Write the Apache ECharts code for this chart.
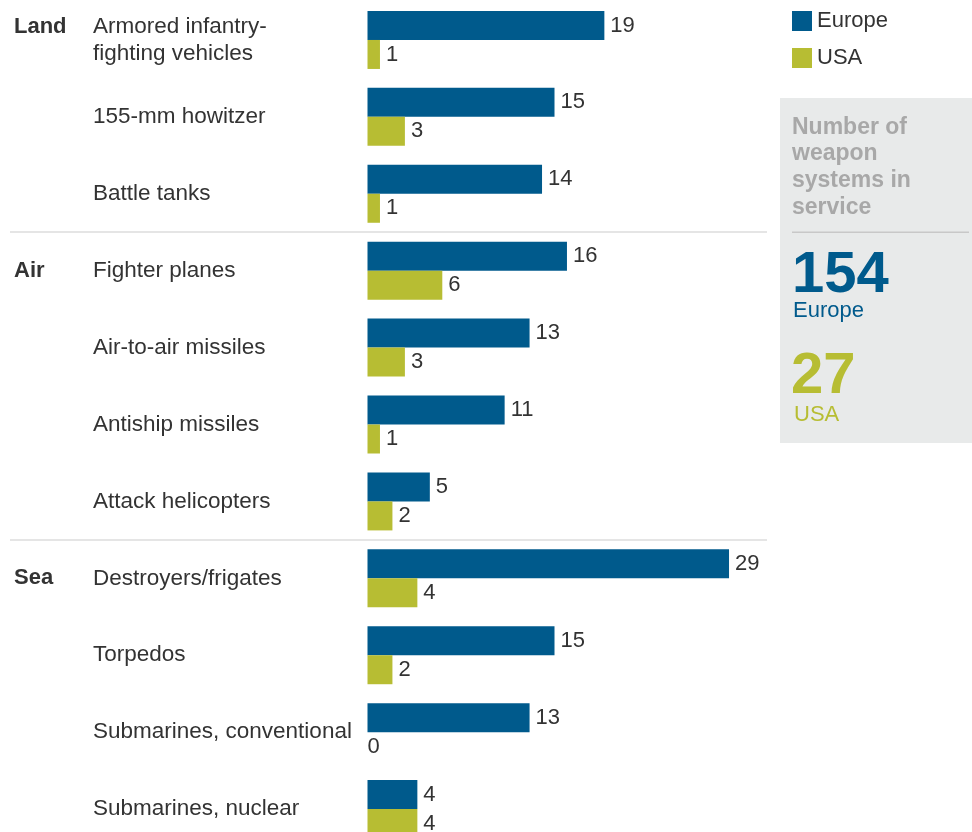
<!DOCTYPE html>
<html>
<head>
<meta charset="utf-8">
<script src="https://cdn.jsdelivr.net/npm/echarts@6/dist/echarts.min.js"></script>
<style>html,body{margin:0;padding:0;background:#fff}#c{width:972px;height:832px}</style>
</head>
<body>
<div id="c"></div>
<script>
const categories = ['Armored infantry-\nfighting vehicles','155-mm howitzer','Battle tanks','Fighter planes','Air-to-air missiles','Antiship missiles','Attack helicopters','Destroyers/frigates','Torpedos','Submarines, conventional','Submarines, nuclear'];
const groups = ['Land','Land','Land','Air','Air','Air','Air','Sea','Sea','Sea','Sea'];
const europe = [19,15,14,16,13,11,5,29,15,13,4];
const usa = [1,3,1,6,3,1,2,4,2,0,4];
const seriesNames = ['Europe','USA'];
const panelTitle = 'Number of\nweapon\nsystems in\nservice';

const BLUE = '#005a8c', GREEN = '#b7bd33', TXT = '#333333';
const FONT = 'Liberation Sans, Arial, sans-serif';
const sum = a => a.reduce((s, v) => s + v, 0);

const groupStart = groups.map((g, i) => i === 0 || groups[i - 1] !== g);
const lineCount = categories.map(c => c.split('\n').length);

function barData(arr) {
  return arr.map(v => v === 0 ? { value: v, label: { distance: 0 } } : v);
}

const chart = echarts.init(document.getElementById('c'), null, { renderer: 'canvas' });
chart.setOption({
  animation: false,
  textStyle: { fontFamily: FONT },
  legend: {
    orient: 'vertical', left: 792, top: 10, padding: 0,
    itemWidth: 20, itemHeight: 20, itemGap: 15,
    icon: 'rect',
    textStyle: { fontSize: 22, lineHeight: 20, color: TXT, fontFamily: FONT },
    data: seriesNames
  },
  grid: [
    { left: 367.5, width: 374, top: 1.5, height: 846, outerBoundsMode: 'none', containLabel: false },
    { left: 10, width: 757, top: 1.5, height: 846, outerBoundsMode: 'none', containLabel: false }
  ],
  xAxis: [
    { type: 'value', gridIndex: 0, min: 0, max: 30, show: false },
    { type: 'value', gridIndex: 1, min: 0, max: 1, show: false }
  ],
  yAxis: [
    {
      type: 'category', gridIndex: 0, inverse: true, data: categories,
      axisLine: { show: false }, axisTick: { show: false }, splitLine: { show: false },
      axisLabel: {
        interval: 0, align: 'left', margin: 274.5,
        fontSize: 22.5, lineHeight: 27, color: TXT, fontFamily: FONT
      }
    },
    {
      type: 'category', gridIndex: 1, inverse: true, data: categories,
      axisLine: { show: false }, axisTick: { show: false },
      splitLine: {
        show: true,
        interval: (i) => i > 0 && i < categories.length && groupStart[i],
        lineStyle: { color: '#dddddd', width: 1.5 }
      },
      axisLabel: {
        interval: 0, inside: true, align: 'left', margin: 4,
        fontSize: 22, lineHeight: 27, fontWeight: 'bold', color: TXT, fontFamily: FONT,
        formatter: (v, i) => groupStart[i] ? groups[i] + '\n '.repeat(lineCount[i] - 1) : ''
      }
    }
  ],
  series: [
    {
      name: seriesNames[0], type: 'bar', xAxisIndex: 0, yAxisIndex: 0,
      data: barData(europe), barWidth: 29, barGap: '0%',
      itemStyle: { color: BLUE },
      label: { show: true, position: 'right', distance: 6, fontSize: 22, color: TXT, fontFamily: FONT }
    },
    {
      name: seriesNames[1], type: 'bar', xAxisIndex: 0, yAxisIndex: 0,
      data: barData(usa), barWidth: 29, barGap: '0%',
      itemStyle: { color: GREEN },
      label: { show: true, position: 'right', distance: 6, fontSize: 22, color: TXT, fontFamily: FONT }
    }
  ],
  graphic: [
    { type: 'rect', shape: { x: 780, y: 98, width: 192, height: 345 }, style: { fill: '#e8eaea' }, z: -1 },
    { type: 'text', x: 792, y: 114, style: { text: panelTitle, fill: '#a8a8a8', font: 'bold 23px ' + FONT, lineHeight: 26.7, verticalAlign: 'top' } },
    { type: 'line', shape: { x1: 792, y1: 232.3, x2: 969, y2: 232.3 }, style: { stroke: '#c8c8c8', lineWidth: 1.5 } },
    { type: 'text', x: 792, y: 276, style: { text: String(sum(europe)), fill: BLUE, font: 'bold 58px ' + FONT, verticalAlign: 'middle' } },
    { type: 'text', x: 793, y: 311, style: { text: seriesNames[0], fill: BLUE, font: '22px ' + FONT, verticalAlign: 'middle' } },
    { type: 'text', x: 791, y: 377, style: { text: String(sum(usa)), fill: GREEN, font: 'bold 58px ' + FONT, verticalAlign: 'middle' } },
    { type: 'text', x: 794, y: 414.5, style: { text: seriesNames[1], fill: GREEN, font: '22px ' + FONT, verticalAlign: 'middle' } }
  ]
});
</script>
</body>
</html>
